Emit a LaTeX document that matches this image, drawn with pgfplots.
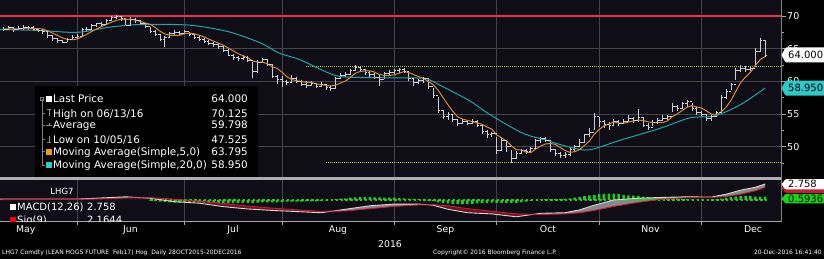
\documentclass[border=0pt]{standalone}
\usepackage{fontspec}
\setmainfont{DejaVu Sans}
\usepackage{pgfplots}
\pgfplotsset{compat=1.18}
\usepackage{pgfplotstable}

\definecolor{plotbg}{RGB}{15,14,22}
\definecolor{gridcol}{RGB}{68,68,76}
\definecolor{barcol}{RGB}{205,205,215}
\definecolor{ma5col}{RGB}{214,138,58}
\definecolor{ma20col}{RGB}{32,165,168}
\definecolor{ma5sq}{RGB}{245,150,20}
\definecolor{ma20sq}{RGB}{40,205,205}
\definecolor{hilinecol}{RGB}{232,50,78}
\definecolor{chancol}{RGB}{160,205,45}
\definecolor{macdcol}{RGB}{215,215,215}
\definecolor{sigcol}{RGB}{205,25,50}
\definecolor{fillpos}{RGB}{135,135,140}
\definecolor{fillneg}{RGB}{115,15,35}
\definecolor{histg}{RGB}{30,205,30}
\definecolor{boxteal}{RGB}{45,200,200}
\definecolor{boxgreen}{RGB}{20,215,20}
\definecolor{framecol}{RGB}{165,165,170}

\pgfdeclareplotmark{closetick}{\pgfpathmoveto{\pgfqpoint{0pt}{0pt}}\pgfpathlineto{\pgfqpoint{2.2pt}{0pt}}\pgfusepathqstroke}
\pgfdeclareplotmark{opentick}{\pgfpathmoveto{\pgfqpoint{0pt}{0pt}}\pgfpathlineto{\pgfqpoint{-2.2pt}{0pt}}\pgfusepathqstroke}

\newcommand{\fA}{\fontsize{10.4}{12}\selectfont}
\newcommand{\fT}{\fontsize{9.5}{11}\selectfont}
\newcommand{\fM}{\fontsize{9.3}{11}\selectfont}
\newcommand{\fB}{\fontsize{10}{12}\selectfont}
\newcommand{\fF}{\fontsize{6}{7}\selectfont}

\pgfplotstableread{
d c h l m5 hs
-15 68.0 68.3 67.7 68.00 0
-14 68.2 68.5 67.9 68.05 0
-13 67.9 68.3 67.6 68.00 0
-12 68.1 68.4 67.8 68.05 0
-11 68.3 68.6 67.9 68.10 0
-10 68.2 68.5 67.9 68.14 0
-9 68.0 68.4 67.7 68.10 0
-8 67.8 68.2 67.5 68.08 0
-7 67.6 68.0 67.2 67.98 0
-6 67.0 67.6 66.7 67.72 0
-5 66.5 67.0 66.1 67.38 0
-4 66.2 66.6 65.9 67.02 0
-3 66.0 66.4 65.8 66.66 0
-2 66.4 66.7 66.0 66.42 0
-1 66.8 67.1 66.3 66.38 0
0 66.9 67.3 66.5 66.46 0
1 67.9 68.1 66.9 66.80 0
2 68.0 68.3 67.6 67.20 0
3 68.5 68.7 67.9 67.62 0
4 68.8 69.0 68.3 68.02 0
5 68.7 69.1 68.4 68.38 0
6 69.4 69.6 68.7 68.68 0
7 69.8 70.0 69.3 69.04 0
8 69.9 70.125 69.5 69.32 0
9 69.6 70.0 69.3 69.48 0
10 68.6 69.7 68.4 69.46 0
11 69.5 69.8 68.6 69.48 0
12 69.3 69.7 69.0 69.38 0
13 68.8 69.4 68.6 69.16 0
14 68.4 68.9 68.2 68.92 0
15 67.6 68.3 67.4 68.72 -0.1
16 67.2 67.8 66.9 68.26 -0.2
17 66.4 67.3 66.1 67.68 -0.3
18 66.7 67.0 65.3 67.26 -0.35
19 67.3 67.5 66.6 67.04 -0.4
20 67.5 67.8 67.1 67.02 -0.45
21 67.3 67.7 67.0 67.04 -0.45
22 67.6 67.9 67.2 67.28 -0.4
23 67.2 67.6 66.9 67.38 -0.35
24 66.8 67.3 66.5 67.28 -0.35
25 66.4 66.9 66.1 67.06 -0.35
26 66.1 66.6 65.8 66.82 -0.4
27 65.8 66.3 65.5 66.46 -0.45
28 65.6 66.0 65.3 66.14 -0.5
29 65.3 65.8 65.0 65.84 -0.55
30 64.8 65.4 64.5 65.52 -0.55
31 64.0 64.9 63.8 65.10 -0.55
32 63.6 64.2 63.2 64.66 -0.55
33 63.5 63.9 63.1 64.24 -0.5
34 63.7 64.0 63.3 63.92 -0.5
35 63.2 63.8 62.9 63.60 -0.5
36 61.5 63.0 60.5 63.10 -0.5
37 62.9 63.2 61.3 62.96 -0.45
38 63.3 63.6 62.8 62.92 -0.4
39 62.6 63.4 62.3 62.70 -0.4
40 60.8 62.6 60.5 62.22 -0.4
41 60.3 61.0 59.6 61.98 -0.4
42 60.0 60.8 59.2 61.40 -0.35
43 59.8 60.2 59.4 60.70 -0.3
44 60.4 61.0 59.8 60.26 -0.3
45 60.0 60.6 59.7 60.10 -0.3
46 59.6 60.2 59.3 59.96 -0.3
47 59.4 60.0 59.0 59.84 -0.25
48 59.7 60.0 59.3 59.82 -0.25
49 59.3 59.8 59.0 59.60 -0.25
50 59.5 59.9 59.1 59.50 -0.2
51 59.0 59.6 58.7 59.38 -0.1
52 58.9 59.4 58.5 59.28 0
53 60.4 60.7 58.9 59.42 0.15
54 60.9 61.3 60.3 59.74 0.25
55 61.0 61.4 60.6 60.04 0.3
56 61.6 61.9 60.9 60.56 0.4
57 62.2 62.5 61.5 61.22 0.45
58 61.8 62.4 61.5 61.50 0.5
59 61.4 61.9 61.0 61.60 0.5
60 61.0 61.5 60.7 61.60 0.5
61 60.6 61.2 60.3 61.40 0.45
62 60.3 60.9 59.3 61.02 0.45
63 61.2 61.4 60.3 60.90 0.4
64 61.3 61.7 60.9 60.88 0.4
65 61.6 61.9 61.1 61.00 0.4
66 61.8 62.1 61.3 61.24 0.35
67 61.5 62.0 61.2 61.48 0.3
68 60.4 61.6 60.0 61.32 0.25
69 59.8 60.5 59.3 61.02 0.2
70 60.1 60.4 59.6 60.72 0.15
71 60.4 60.7 59.8 60.44 0.05
72 59.2 60.5 58.8 59.98 -0.1
73 57.8 59.0 57.5 59.46 -0.2
74 55.6 57.6 55.2 58.62 -0.4
75 54.6 55.6 54.3 57.52 -0.55
76 54.9 55.3 54.1 56.42 -0.6
77 54.2 55.0 53.8 55.42 -0.65
78 53.5 54.2 53.1 54.56 -0.7
79 53.9 54.2 53.4 54.22 -0.7
80 53.6 54.1 53.3 54.02 -0.7
81 53.9 54.3 53.5 53.82 -0.65
82 53.3 54.0 53.0 53.64 -0.6
83 52.4 53.3 51.9 53.42 -0.55
84 51.8 52.5 51.3 53.00 -0.5
85 52.0 52.3 51.5 52.68 -0.45
86 49.5 51.5 48.9 51.80 -0.5
87 51.0 51.5 49.3 51.34 -0.5
88 50.0 51.0 49.2 50.86 -0.5
89 48.2 49.5 47.525 50.14 -0.5
90 48.9 49.4 48.1 49.52 -0.5
91 49.4 49.7 48.8 49.50 -0.4
92 49.2 49.6 48.8 49.14 -0.3
93 49.7 50.0 49.0 49.08 -0.15
94 50.9 51.1 49.6 49.62 0
95 51.2 51.5 50.6 50.08 0.1
96 51.0 51.5 50.7 50.40 0.15
97 49.6 51.0 49.2 50.48 0.15
98 49.0 49.6 48.5 50.34 0.2
99 48.6 49.2 48.3 49.88 0.2
100 48.8 49.2 48.3 49.40 0.2
101 49.6 50.0 48.6 49.12 0.3
102 50.1 50.3 49.3 49.22 0.4
103 50.6 51.2 50.0 49.54 0.5
104 51.8 52.0 50.6 50.18 0.65
105 52.2 52.8 51.4 50.86 0.8
106 54.6 55.1 52.5 51.86 0.9
107 53.9 54.6 53.0 52.62 1.0
108 53.4 54.0 52.8 53.18 1.05
109 53.2 53.8 52.6 53.46 1.1
110 53.8 54.2 53.3 53.78 1.1
111 53.6 54.0 53.2 53.58 1.0
112 53.9 54.3 53.4 53.58 0.9
113 54.3 54.8 53.8 53.76 0.8
114 54.0 54.6 53.6 53.92 0.75
115 54.5 55.8 53.8 54.06 0.7
116 53.3 54.5 53.0 54.00 0.6
117 52.9 53.6 52.5 53.80 0.5
118 53.7 54.0 53.2 53.68 0.4
119 54.0 54.4 53.5 53.68 0.35
120 54.4 54.8 53.9 53.66 0.3
121 54.6 54.9 54.0 53.92 0.25
122 56.2 56.6 55.3 54.58 0.2
123 55.8 56.4 55.4 55.00 0.2
124 56.6 56.9 55.7 55.52 0.15
125 56.9 57.1 56.0 56.02 0.15
126 55.8 56.6 55.4 56.26 0.1
127 55.3 56.0 54.9 56.08 0.05
128 54.9 55.5 54.5 55.90 0
129 54.3 54.8 53.9 55.44 0
130 54.6 54.9 53.9 54.98 0
131 55.2 55.5 54.6 54.86 0.1
132 57.6 57.9 55.1 55.32 0.25
133 58.4 58.8 57.3 56.02 0.4
134 59.5 59.8 58.6 57.06 0.5
135 61.6 62.0 60.2 58.46 0.6
136 62.0 62.5 61.4 59.82 0.7
137 61.8 62.4 61.4 60.66 0.7
138 62.0 62.4 61.6 61.38 0.65
139 64.6 65.1 62.2 62.40 0.6
140 66.2 66.6 64.5 63.32 0.6
141 64.0 66.3 63.7 63.795 0.5936
}\price

\pgfplotstableread{
d v
-15.8 67.9
-8 67.8
0 67.5
6.8 68.3
13 68.7
23 68.6
31 67.6
37.5 65.9
41.5 64.3
45.7 63.3
52.5 61.0
57 60.6
70 60.5
72 60.3
74.4 59.4
77 58.4
80.5 57.0
84 55.2
88 53.4
91.8 51.9
96 51.0
101 49.9
105 49.5
111 50.9
119.5 52.8
125.6 54.4
130.7 54.7
135.9 56.4
141 58.95
}\mtwenty

\pgfplotstableread{
d m s
-15.8 0.15 0.05
0 0.15 0.10
5 0.35 0.20
10 0.55 0.35
15 0.30 0.40
20 -0.30 0.15
25 -0.55 -0.20
30 -1.15 -0.60
35 -1.55 -1.05
40 -1.80 -1.40
45 -2.00 -1.70
50 -2.20 -1.95
55 -1.60 -1.90
60 -1.00 -1.50
65 -0.70 -1.10
70 -0.70 -0.85
73 -0.90 -0.80
76 -1.60 -1.00
80 -2.20 -1.50
85 -2.40 -1.95
90 -2.90 -2.40
95 -2.30 -2.50
100 -2.20 -2.40
103 -1.70 -2.20
106 -0.90 -1.80
110 0.00 -1.10
115 0.30 -0.40
120 0.45 0.15
125 0.55 0.40
130 0.50 0.45
133 1.00 0.60
136 1.70 1.00
139 2.20 1.60
141 2.758 2.1644
}\macd

\newcommand{\valbox}[4]{%
  \fill[#2, rounded corners=1pt] (781.5pt,#1pt) -- (785.5pt,{(#1+#4)*1pt}) -- (830pt,{(#1+#4)*1pt}) -- (830pt,{(#1-#4)*1pt}) -- (785.5pt,{(#1-#4)*1pt}) -- cycle;
  \node[anchor=base west, inner sep=0, font=\fB, text=black] at (788pt,{(#1-3.6)*1pt}) {#3};}
\newcommand{\lt}[3]{\node[anchor=base west, inner sep=0, text=white, font=\fA] at (#1pt,{(#2-3.8)*1pt}) {#3};}
\newcommand{\lv}[3]{\node[anchor=base east, inner sep=0, text=white, font=\fA] at (#1pt,{(#2-3.8)*1pt}) {#3};}

\begin{document}
\begin{tikzpicture}
\useasboundingbox (0pt,0pt) rectangle (824pt,259pt);
\fill[black] (0pt,0pt) rectangle (824pt,259pt);

% ---------------- main price panel
\begin{axis}[at={(0pt,81pt)}, anchor=south west, width=782pt, height=178pt, scale only axis,
  xmin=-15.78, xmax=144.47, ymin=45.19, ymax=72.45,
  axis background/.style={fill=plotbg},
  axis line style={draw=none},
  xtick={0,22,42,65,86,107,128}, xticklabels={}, x tick style={draw=none},
  ytick={50,55,60,65,70}, yticklabels={}, minor ytick={47.5,52.5,57.5,62.5,67.5},
  ytick pos=right, tick align=outside, major tick length=4pt, minor tick length=2pt,
  y tick style={framecol, line width=0.6pt},
  grid=major, major grid style={gridcol, line width=0.6pt}]
\addplot[hilinecol, line width=2pt] coordinates {(-16,70) (145,70)};
\addplot[chancol, line width=1pt, dash pattern=on 1pt off 1pt] coordinates {(47,62.3) (145,62.3)};
\addplot[chancol, line width=1pt, dash pattern=on 1pt off 1pt] coordinates {(51,47.525) (145,47.525)};
\addplot[only marks, mark=closetick, mark options={barcol, line width=0.7pt, solid},
  error bars/.cd, y dir=both, y explicit, error mark=none,
  error bar style={barcol, line width=0.7pt}]
  table[x=d, y=c, y error plus expr=\thisrow{h}-\thisrow{c}, y error minus expr=\thisrow{c}-\thisrow{l}] {\price};
\addplot[only marks, mark=opentick, mark options={barcol, line width=0.7pt, solid},
  restrict x to domain=-20:141] table[x expr=\thisrow{d}+1, y=c] {\price};
\addplot[ma20col, line width=1pt, smooth] table[x=d, y=v] {\mtwenty};
\addplot[ma5col, line width=1pt] table[x=d, y=m5] {\price};
\end{axis}

% ---------------- MACD panel
\begin{axis}[at={(0pt,37pt)}, anchor=south west, width=782pt, height=44pt, scale only axis,
  xmin=-15.78, xmax=144.47, ymin=-3.8, ymax=3.8,
  axis background/.style={fill=plotbg}, axis line style={draw=none},
  xtick={0,22,42,65,86,107,128}, xticklabels={}, xtick pos=bottom, tick align=outside,
  major tick length=3pt, x tick style={framecol, line width=0.6pt},
  ytick=\empty, grid=major, major grid style={gridcol, line width=0.6pt}]
\addplot[fill=fillpos, draw=none] coordinates {(-15.8,0.15) (0,0.15) (5,0.35) (10,0.55) (13.33,0.383) (10,0.35) (5,0.20) (0,0.10) (-15.8,0.05)} -- cycle;
\addplot[fill=fillneg, draw=none] coordinates {(13.33,0.383) (15,0.30) (20,-0.30) (25,-0.55) (30,-1.15) (35,-1.55) (40,-1.80) (45,-2.00) (50,-2.20) (52.27,-1.927) (50,-1.95) (45,-1.70) (40,-1.40) (35,-1.05) (30,-0.60) (25,-0.20) (20,0.15) (15,0.40)} -- cycle;
\addplot[fill=fillpos, draw=none] coordinates {(52.27,-1.927) (55,-1.60) (60,-1.00) (65,-0.70) (70,-0.70) (71.8,-0.82) (70,-0.85) (65,-1.10) (60,-1.50) (55,-1.90)} -- cycle;
\addplot[fill=fillneg, draw=none] coordinates {(71.8,-0.82) (73,-0.90) (76,-1.60) (80,-2.20) (85,-2.40) (90,-2.90) (93.57,-2.471) (90,-2.40) (85,-1.95) (80,-1.50) (76,-1.00) (73,-0.80)} -- cycle;
\addplot[fill=fillpos, draw=none] coordinates {(93.57,-2.471) (95,-2.30) (100,-2.20) (103,-1.70) (106,-0.90) (110,0.00) (115,0.30) (120,0.45) (125,0.55) (130,0.50) (133,1.00) (136,1.70) (139,2.20) (141,2.758) (141,2.1644) (139,1.60) (136,1.00) (133,0.60) (130,0.45) (125,0.40) (120,0.15) (115,-0.40) (110,-1.10) (106,-1.80) (103,-2.20) (100,-2.40) (95,-2.50)} -- cycle;
\addplot[histg, line width=1.4pt, dash pattern=on 2.4pt off 2.48pt] coordinates {(15,0) (142,0)};
\addplot[ybar, bar width=2.6pt, fill=histg, draw=none] table[x=d, y=hs] {\price};
\addplot[macdcol, line width=0.9pt] table[x=d, y=m] {\macd};
\addplot[sigcol, line width=0.9pt] table[x=d, y=s] {\macd};
\end{axis}

% ---------------- frames
\draw[framecol!90!white, line width=2.4pt] (0pt,80.3pt) -- (782pt,80.3pt);
\draw[framecol, line width=0.9pt] (0pt,37.3pt) -- (782pt,37.3pt);
\draw[framecol!80!black, line width=0.9pt] (781.6pt,37pt) -- (781.6pt,259pt);

% ---------------- legend box
\fill[black] (35pt,81.5pt) rectangle (258pt,173pt);
\draw[gray, line width=0.5pt] (42pt,160pt) -- (42pt,94pt) -- (45pt,94pt);
\foreach \yy in {145.7,134,119.7,107.3} {\draw[gray, line width=0.5pt] (42pt,\yy pt) -- (44.5pt,\yy pt);}
\draw[gray, line width=0.5pt] (40.3pt,158.3pt) rectangle (43.7pt,161.7pt);
\fill[white] (46pt,157pt) rectangle (52pt,163pt);
\draw[gray!90, line width=0.6pt] (49pt,142.5pt) -- (49pt,149.5pt); \draw[gray!90, line width=0.6pt] (47.3pt,149.5pt) -- (50.7pt,149.5pt);
\draw[gray!90, line width=0.6pt] (46pt,134pt) -- (52pt,134pt); \draw[gray!90, line width=0.6pt] (49pt,132.5pt) -- (49pt,135.5pt);
\draw[gray!90, line width=0.6pt] (49pt,116.2pt) -- (49pt,123.2pt); \draw[gray!90, line width=0.6pt] (47.3pt,116.2pt) -- (50.7pt,116.2pt);
\fill[ma5sq] (46pt,104.3pt) rectangle (52pt,110.3pt);
\fill[ma20sq] (46pt,91pt) rectangle (52pt,97pt);
\lt{53}{160}{Last Price}            \lv{248}{160}{64.000}
\lt{53}{145.7}{High on 06/13/16}    \lv{248}{145.7}{70.125}
\lt{53}{134}{Average}               \lv{248}{134}{59.798}
\lt{53}{119.7}{Low on 10/05/16}     \lv{248}{119.7}{47.525}
\lt{53}{107.3}{Moving Average(Simple,5,0)}  \lv{248}{107.3}{63.795}
\lt{53}{94}{Moving Average(Simple,20,0)}    \lv{248}{94}{58.950}

% ---------------- MACD legend
\begin{scope}
\clip (0pt,37.8pt) rectangle (781pt,79pt);
\node[anchor=base, inner sep=0, text=white, font=\fontsize{8.5}{10}\selectfont] at (62pt,64pt) {LHG7};
\fill[white] (9.5pt,49pt) rectangle (15.5pt,55pt);
\node[anchor=base west, inner sep=0, text=white, font=\fB] at (17pt,48.3pt) {MACD(12,26)};
\node[anchor=base west, inner sep=0, text=white, font=\fB] at (87pt,48.3pt) {2.758};
\fill[red] (9.5pt,36pt) rectangle (15.5pt,42pt);
\node[anchor=base west, inner sep=0, text=white, font=\fB] at (17pt,35.5pt) {Sig(9)};
\node[anchor=base west, inner sep=0, text=white, font=\fB] at (87pt,35.5pt) {2.1644};
\end{scope}

% ---------------- right axis labels
\foreach \v/\yy in {70/243, 65/210.35, 60/177.7, 55/145.05, 50/112.4} {
  \node[anchor=base west, inner sep=0, text=white, font=\fT] at (787pt,{(\yy-3.5)*1pt}) {\v};}
\valbox{204}{white}{64.000}{7.5}
\valbox{170.8}{boxteal}{58.950}{7.5}
\valbox{71}{sigcol}{}{4.8}
\valbox{74.7}{white}{2.758}{5.2}
\valbox{60.3}{boxgreen}{0.5936}{4.8}

% ---------------- month labels
\foreach \m/\xx in {May/25.8, Jun/130.5, Jul/233, Aug/338, Sep/445.5, Oct/548, Nov/650.5, Dec/753} {
  \node[anchor=base, inner sep=0, text=white, font=\fM] at (\xx pt,26.3pt) {\m};}
\node[anchor=base, inner sep=0, text=white, font=\fM] at (390pt,11.7pt) {2016};

% ---------------- footer
\node[anchor=base west, inner sep=0, text=white, font=\fF] at (2pt,4.3pt) {LHG7 Comdty (LEAN HOGS FUTURE\ \ Feb17) Hog\ \ Daily 28OCT2015-20DEC2016};
\node[anchor=base west, inner sep=0, text=white, font=\fF] at (433pt,4.3pt) {Copyright© 2016 Bloomberg Finance L.P.};
\node[anchor=base east, inner sep=0, text=white, font=\fF] at (822pt,4.3pt) {20-Dec-2016 16:41:40};
\end{tikzpicture}
\end{document}
